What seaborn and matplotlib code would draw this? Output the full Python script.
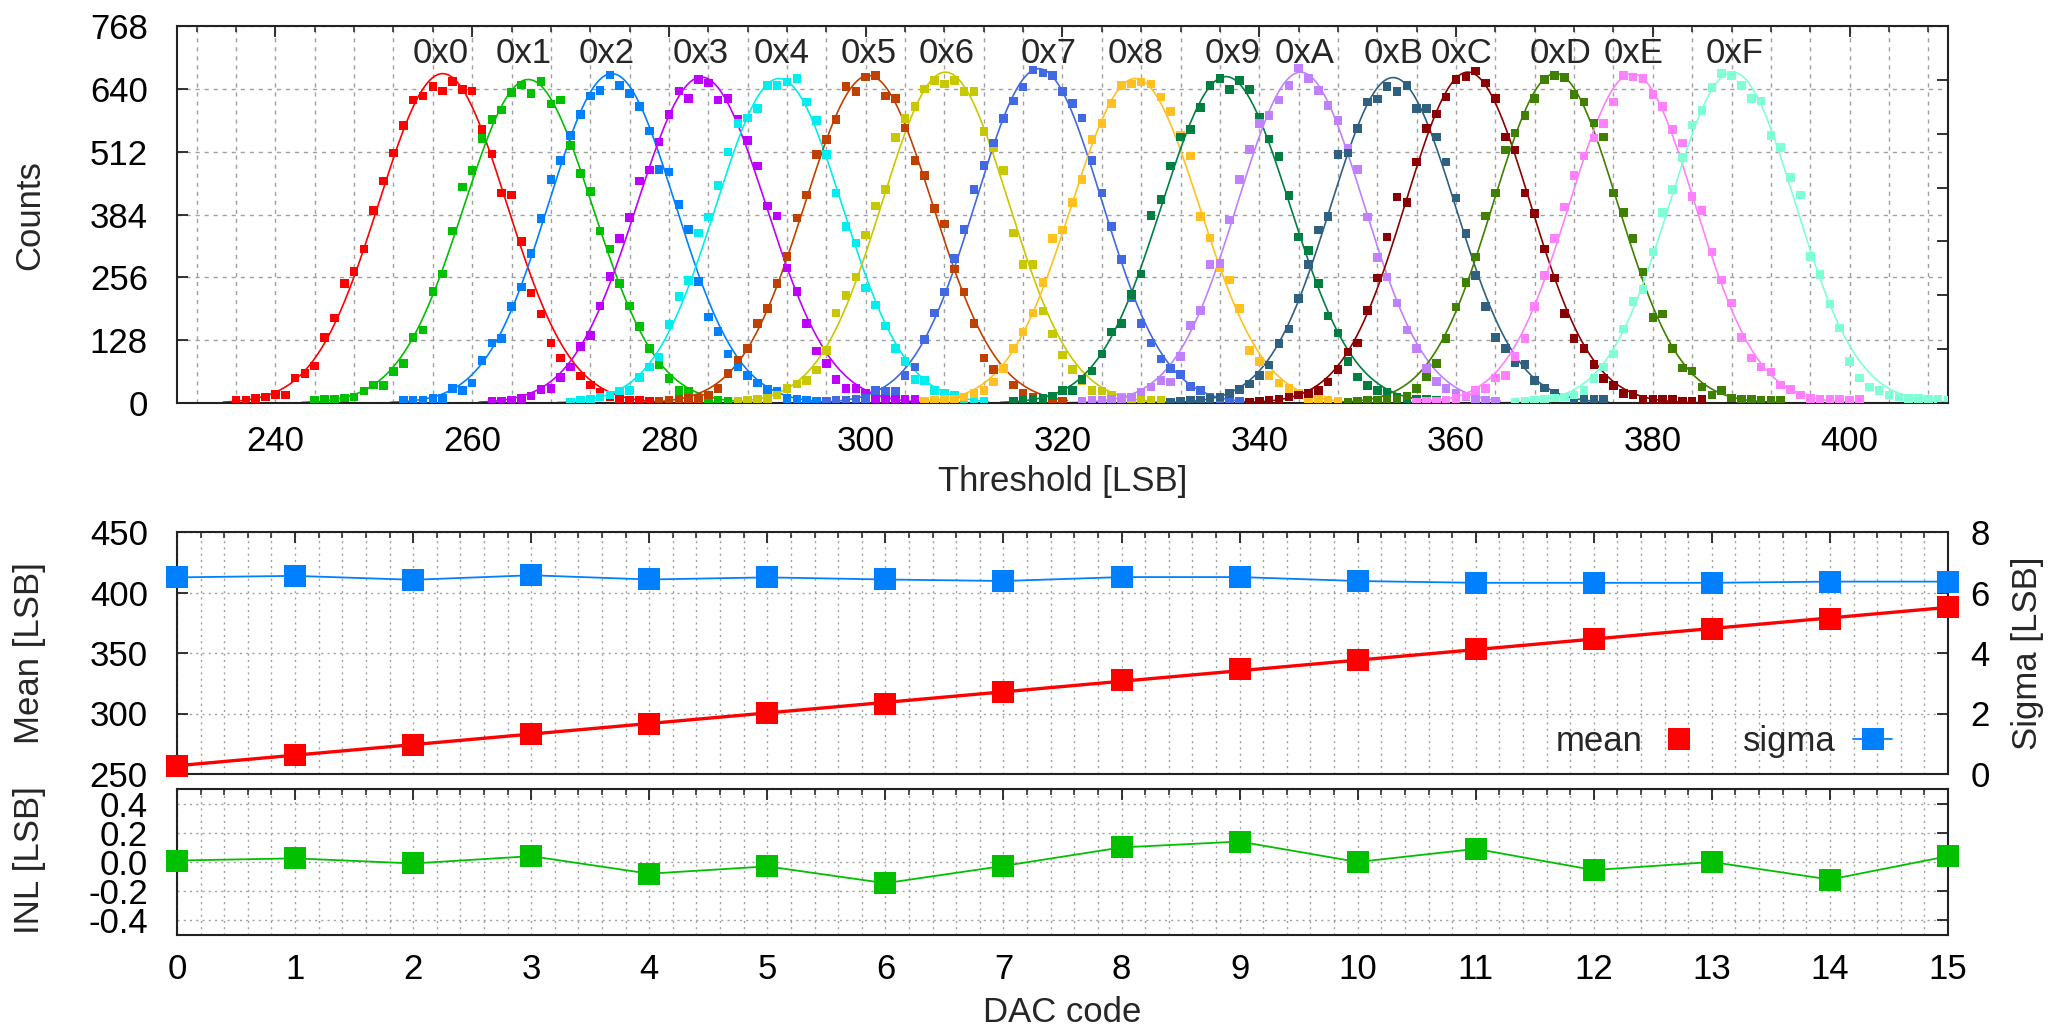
import numpy as np
import pandas as pd
import matplotlib
matplotlib.use("Agg")
import matplotlib.pyplot as plt
import seaborn as sns
from matplotlib.lines import Line2D
from matplotlib.ticker import MultipleLocator, FixedLocator, NullFormatter

# ---------------- data ----------------
code_labels = ["0x0", "0x1", "0x2", "0x3", "0x4", "0x5", "0x6", "0x7",
               "0x8", "0x9", "0xA", "0xB", "0xC", "0xD", "0xE", "0xF"]
code_colors = ["#ff0000", "#00c000", "#0080ff", "#c000ff", "#00eeee", "#c04000",
               "#c8c800", "#4169e1", "#ffc020", "#008040", "#c080ff", "#306080",
               "#8b0000", "#408000", "#ff80ff", "#7fffd4"]
# x position [LSB] of each code label above its peak
label_x = [256.8, 265.2, 273.7, 283.2, 291.5, 300.3, 308.2, 318.6,
           327.4, 337.3, 344.6, 353.6, 360.6, 370.6, 378.0, 388.3]

# first threshold [LSB] of each histogram (one point per LSB afterwards)
hist_start = [236, 244, 253, 262, 270, 279, 287, 296, 306, 315, 322, 331, 339, 349, 356, 366]

counts_0x0 = [5, 5, 9, 12, 17, 16, 51, 60, 75, 133, 173, 243, 268, 314, 392, 452, 509, 565,
              617, 625, 645, 636, 655, 639, 636, 557, 507, 428, 424, 329, 224, 181, 122, 92,
              73, 55, 37, 22, 12, 8, 6, 5, 3, 4, 2]
counts_0x1 = [5, 7, 7, 10, 12, 24, 37, 36, 64, 80, 134, 149, 227, 263, 350, 440, 474, 539,
              577, 597, 633, 648, 631, 655, 609, 617, 524, 467, 431, 350, 314, 244, 198, 156,
              111, 77, 50, 26, 24, 10, 9, 5, 4, 3, 2]
counts_0x2 = [5, 5, 5, 9, 9, 29, 26, 41, 87, 122, 131, 197, 236, 304, 376, 455, 494, 545,
              588, 625, 637, 668, 647, 630, 604, 554, 476, 471, 404, 354, 248, 175, 146, 100,
              73, 56, 41, 27, 24, 9, 7, 5, 3, 2]
counts_0x3 = [3, 4, 6, 9, 14, 27, 29, 52, 73, 115, 138, 198, 258, 335, 378, 452, 475, 532,
              588, 636, 620, 659, 652, 617, 620, 577, 535, 483, 401, 381, 275, 227, 162, 106,
              80, 48, 29, 29, 20, 7, 7, 7, 7, 7]
counts_0x4 = [2, 5, 7, 12, 16, 24, 26, 52, 73, 94, 160, 217, 249, 346, 379, 443, 511, 569,
              581, 600, 647, 647, 654, 661, 613, 576, 506, 428, 359, 326, 234, 200, 157, 111,
              84, 48, 46, 26, 19, 16, 9, 5, 4]
counts_0x5 = [3, 5, 7, 9, 9, 16, 29, 60, 88, 111, 162, 192, 243, 299, 377, 424, 506, 537,
              577, 645, 634, 664, 667, 625, 620, 560, 494, 463, 396, 365, 273, 226, 162, 92,
              68, 70, 37, 19, 12, 7, 5, 3]
counts_0x6 = [3, 5, 7, 9, 16, 30, 39, 46, 67, 107, 183, 219, 257, 342, 401, 435, 541, 580,
              604, 640, 657, 650, 657, 634, 634, 553, 520, 474, 346, 282, 282, 187, 141, 98,
              68, 45, 26, 24, 16, 12, 9, 7, 5, 5]
counts_0x7 = [3, 5, 5, 7, 9, 26, 24, 24, 56, 73, 129, 183, 226, 294, 353, 435, 484, 530,
              579, 615, 644, 678, 672, 667, 634, 610, 581, 494, 428, 360, 292, 214, 162, 122,
              90, 70, 58, 34, 26, 12, 9, 5, 3]
counts_0x8 = [3, 5, 7, 7, 12, 19, 26, 43, 70, 111, 145, 183, 245, 335, 352, 408, 455, 537,
              569, 610, 647, 650, 654, 650, 623, 594, 545, 503, 380, 336, 276, 251, 192, 107,
              84, 56, 41, 29, 19, 9, 7, 5, 3]
counts_0x9 = [3, 5, 7, 9, 14, 26, 26, 48, 65, 100, 145, 162, 221, 263, 382, 415, 483, 542,
              557, 602, 647, 661, 639, 657, 639, 583, 538, 502, 423, 338, 311, 243, 177, 143,
              84, 53, 36, 26, 22, 12, 7, 7, 7, 5]
counts_0xA = [3, 5, 5, 7, 9, 12, 22, 33, 46, 43, 95, 158, 189, 282, 284, 373, 455, 516,
              569, 586, 617, 647, 682, 661, 637, 606, 575, 518, 476, 379, 296, 257, 204, 149,
              111, 70, 44, 29, 19, 12, 7, 5, 3]
counts_0xB = [2, 3, 5, 5, 9, 12, 19, 27, 39, 56, 77, 121, 151, 213, 282, 352, 380, 506,
              509, 559, 613, 619, 645, 634, 647, 600, 600, 542, 491, 418, 345, 260, 197, 134,
              111, 82, 78, 46, 31, 20, 12, 7, 7, 7, 7]
counts_0xC = [2, 3, 5, 7, 12, 16, 19, 26, 43, 68, 104, 122, 189, 255, 338, 420, 409, 491,
              559, 589, 623, 659, 664, 676, 652, 620, 542, 515, 428, 386, 314, 255, 182, 131,
              111, 78, 50, 36, 19, 17, 7, 7, 7, 7, 4, 3, 7]
counts_0xD = [2, 3, 5, 5, 7, 7, 14, 29, 53, 80, 131, 196, 246, 297, 381, 428, 515, 550,
              586, 620, 659, 667, 663, 629, 613, 570, 542, 428, 388, 335, 267, 174, 181, 111,
              71, 65, 33, 16, 26, 10, 7, 7, 5, 5, 5]
counts_0xE = [2, 3, 4, 5, 9, 14, 26, 29, 51, 56, 95, 131, 197, 260, 335, 399, 464, 503,
              540, 569, 613, 667, 664, 661, 629, 604, 557, 530, 421, 392, 308, 251, 204, 134,
              92, 73, 63, 37, 27, 16, 9, 7, 7, 7, 5, 7]
counts_0xF = [2, 3, 5, 7, 10, 12, 16, 26, 50, 73, 100, 151, 207, 231, 308, 388, 435, 500,
              566, 596, 643, 671, 667, 647, 620, 615, 545, 521, 459, 424, 299, 262, 202, 153,
              84, 51, 33, 26, 16, 12, 9, 9, 7, 7, 5]

hist_counts = [counts_0x0, counts_0x1, counts_0x2, counts_0x3, counts_0x4, counts_0x5,
               counts_0x6, counts_0x7, counts_0x8, counts_0x9, counts_0xA, counts_0xB,
               counts_0xC, counts_0xD, counts_0xE, counts_0xF]

# Gaussian fit parameters (amplitude, mean / sigma from lower panel)
fit_amplitude = [671, 659, 671, 664, 661, 667, 674, 681, 661, 665, 674, 663, 674, 671, 671, 674]

dac_code = list(range(16))
mean_lsb = [257.0, 265.7, 274.2, 283.3, 291.2, 300.3, 308.1, 317.6,
            327.4, 336.6, 344.2, 353.6, 361.2, 370.1, 377.9, 388.1]
sigma_lsb = [6.50, 6.55, 6.42, 6.57, 6.43, 6.50, 6.43, 6.38,
             6.51, 6.51, 6.38, 6.32, 6.32, 6.32, 6.36, 6.36]
inl_lsb = [0.01, 0.025, -0.01, 0.04, -0.08, -0.03, -0.145, -0.027,
           0.10, 0.14, 0.0, 0.09, -0.055, 0.0, -0.12, 0.04]

mean_color = "#ff0000"
sigma_color = "#0080ff"
inl_color = "#00c000"

# ---------------- style ----------------
sns.set_theme(style="white")
FS = 25
plt.rcParams["font.family"] = ["Liberation Sans", "DejaVu Sans"]
plt.rcParams["font.size"] = FS
plt.rcParams["axes.linewidth"] = 1.5
plt.rcParams["axes.edgecolor"] = "#222222"

W, H = 2052, 1032
fig = plt.figure(figsize=(W / 100, H / 100), dpi=100)
fig.patch.set_facecolor("white")

L, R = 177, 1948


def axes_px(top, bottom):
    return [L / W, 1 - bottom / H, (R - L) / W, (bottom - top) / H]


ax_top = fig.add_axes(axes_px(26, 403))
ax_mean = fig.add_axes(axes_px(532, 774))
ax_inl = fig.add_axes(axes_px(789, 935))

grid_kw = dict(color="#a0a0a0", linewidth=1.0)


def style_ticks(ax, pad_x, pad_y):
    ax.tick_params(which="both", direction="in", top=True, right=True,
                   colors="#222222", labelcolor="black", labelsize=FS)
    ax.tick_params(which="major", length=8, width=1.3)
    ax.tick_params(which="minor", length=4.5, width=1.1)
    ax.tick_params(axis="x", which="major", pad=pad_x)
    ax.tick_params(axis="y", which="major", pad=pad_y)


# ---------------- top panel: histograms ----------------
rows = []
for code, start, cnts in zip(code_labels, hist_start, hist_counts):
    for j, c in enumerate(cnts):
        rows.append((code, start + j, c))
df_hist = pd.DataFrame(rows, columns=["code", "threshold", "counts"])

for i, (start, cnts) in enumerate(zip(hist_start, hist_counts)):
    xx = np.linspace(start - 1.3, start + len(cnts) - 0.5, 400)
    yy = fit_amplitude[i] * np.exp(-0.5 * ((xx - mean_lsb[i]) / sigma_lsb[i]) ** 2)
    ax_top.plot(xx, yy, color=code_colors[i], lw=1.2, zorder=2)

sns.scatterplot(data=df_hist, x="threshold", y="counts", hue="code",
                palette=dict(zip(code_labels, code_colors)), marker="s", s=38,
                linewidth=0, legend=False, ax=ax_top, zorder=3)

for i, lab in enumerate(code_labels):
    ax_top.text(label_x[i], 711, lab, ha="center", va="center", fontsize=FS, zorder=4)

ax_top.set_xlim(230, 410)
ax_top.set_ylim(0, 768)
ax_top.xaxis.set_major_locator(MultipleLocator(20))
ax_top.xaxis.set_minor_locator(MultipleLocator(4))
ax_top.yaxis.set_major_locator(MultipleLocator(128))
ax_top.grid(axis="x", which="both", linestyle=(0, (3, 3.5)), **grid_kw)
ax_top.grid(axis="y", which="major", linestyle=(0, (3, 3.5)), **grid_kw)
ax_top.set_axisbelow(True)
ax_top.set_xlabel("")
ax_top.set_ylabel("")
style_ticks(ax_top, 16, 21)
# mirrored y2 ticks on the right of the histogram panel
ax_top2 = ax_top.twinx()
ax_top2.set_ylim(0, 7)
ax_top2.yaxis.set_major_locator(MultipleLocator(1))
ax_top2.yaxis.set_major_formatter(NullFormatter())
ax_top2.tick_params(axis="y", direction="in", length=8, width=1.3, colors="#222222")
ax_top2.set_ylabel("")
for sp in ax_top2.spines.values():
    sp.set_visible(False)

# ---------------- middle panel: mean and sigma ----------------
df_dac = pd.DataFrame({"dac": dac_code, "mean": mean_lsb, "sigma": sigma_lsb, "inl": inl_lsb})

slope, intercept = np.polyfit(df_dac["dac"], df_dac["mean"], 1)
xl = np.array([0, 15])
ax_mean.plot(xl, intercept + slope * xl, color=mean_color, lw=2.4, zorder=3)
ax_mean.plot(df_dac["dac"], df_dac["mean"], ls="none", marker="s", ms=15.5, mew=0,
             color=mean_color, clip_on=False, zorder=4)

ax_mean.set_xlim(0, 15)
ax_mean.set_ylim(250, 450)
ax_mean.xaxis.set_major_locator(MultipleLocator(1))
ax_mean.xaxis.set_minor_locator(MultipleLocator(0.2))
ax_mean.yaxis.set_major_locator(MultipleLocator(50))
ax_mean.xaxis.set_major_formatter(NullFormatter())
ax_mean.grid(axis="x", which="both", linestyle=(0, (1.5, 3)), **grid_kw)
ax_mean.grid(axis="y", which="major", linestyle=(0, (1.5, 3)), **grid_kw)
ax_mean.set_axisbelow(True)
style_ticks(ax_mean, 13, 21)
ax_mean.tick_params(axis="y", right=False)

ax_sig = ax_mean.twinx()
sns.lineplot(data=df_dac, x="dac", y="sigma", ax=ax_sig, color=sigma_color, lw=1.3,
             marker="s", markersize=15.5, markeredgewidth=0, clip_on=False, zorder=4)
ax_sig.set_ylim(0, 8)
ax_sig.yaxis.set_major_locator(MultipleLocator(2))
ax_sig.set_xlim(0, 15)
ax_sig.set_xlabel("")
ax_sig.set_ylabel("")
ax_sig.tick_params(axis="y", direction="in", length=8, width=1.3, colors="#222222",
                   labelcolor="black", labelsize=FS, pad=16)
for sp in ax_sig.spines.values():
    sp.set_visible(False)

handles = [Line2D([0], [0], color=mean_color, marker="s", ms=15.5, mew=0, ls="none"),
           Line2D([0], [0], color=sigma_color, marker="s", ms=15.5, mew=0, lw=1.3)]
ax_sig.legend(handles, ["mean", "sigma"], ncol=2, markerfirst=False, frameon=False,
              loc="center right", bbox_to_anchor=(0.978, 0.135), fontsize=FS,
              handlelength=1.1, handletextpad=0.5, columnspacing=1.3, borderpad=0)

# ---------------- bottom panel: INL ----------------
sns.lineplot(data=df_dac, x="dac", y="inl", ax=ax_inl, color=inl_color, lw=1.3,
             marker="s", markersize=15.5, markeredgewidth=0, clip_on=False, zorder=4)
ax_inl.set_xlim(0, 15)
ax_inl.set_ylim(-0.5, 0.5)
ax_inl.xaxis.set_major_locator(MultipleLocator(1))
ax_inl.xaxis.set_minor_locator(MultipleLocator(0.2))
ax_inl.yaxis.set_major_locator(FixedLocator([-0.4, -0.2, 0.0, 0.2, 0.4]))
ax_inl.set_yticklabels(["-0.4", "-0.2", "0.0", "0.2", "0.4"])
ax_inl.grid(axis="x", which="both", linestyle=(0, (1.5, 3)), **grid_kw)
ax_inl.grid(axis="y", which="major", linestyle=(0, (1.5, 3)), **grid_kw)
ax_inl.set_axisbelow(True)
ax_inl.set_xlabel("")
ax_inl.set_ylabel("")
style_ticks(ax_inl, 13, 21)

# ---------------- axis titles ----------------
fig.text(30 / W, 1 - 215 / H, "Counts", rotation=90, ha="center", va="center", fontsize=FS)
fig.text((L + R) / 2 / W, 1 - 482 / H, "Threshold [LSB]", ha="center", va="center", fontsize=FS)
fig.text(30 / W, 1 - 653 / H, "Mean [LSB]", rotation=90, ha="center", va="center", fontsize=FS)
fig.text(30 / W, 1 - 860 / H, "INL [LSB]", rotation=90, ha="center", va="center", fontsize=FS)
fig.text(2027 / W, 1 - 653 / H, "Sigma [LSB]", rotation=90, ha="center", va="center", fontsize=FS)
fig.text((L + R) / 2 / W, 1 - 1012 / H, "DAC code", ha="center", va="center", fontsize=FS)

fig.savefig("out.png", dpi=100, facecolor="white")
